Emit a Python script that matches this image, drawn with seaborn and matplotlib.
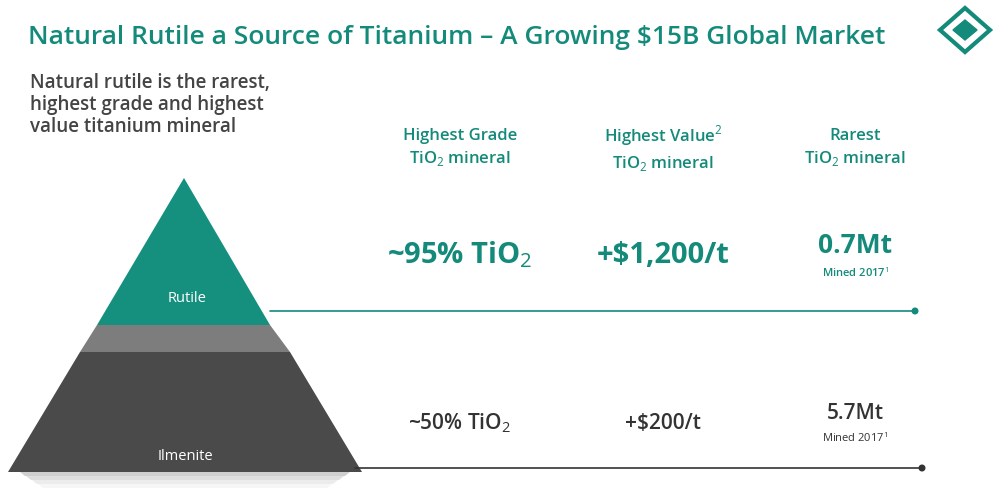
import matplotlib
matplotlib.use("Agg")
import matplotlib.pyplot as plt
import seaborn as sns
from matplotlib.patches import Polygon, Circle

sns.set_theme(style="white")
plt.rcParams["font.family"] = "Open Sans"
plt.rcParams["mathtext.fontset"] = "custom"
plt.rcParams["mathtext.rm"] = "Open Sans"

TEAL = "#138a7a"
DARK = "#333333"

title = "Natural Rutile a Source of Titanium – A Growing $15B Global Market"
subtitle = "Natural rutile is the rarest,\nhighest grade and highest\nvalue titanium mineral"
headers = ["Highest Grade\nTiO$_2$ mineral", "Highest Value$^2$\nTiO$_2$ mineral", "Rarest\nTiO$_2$ mineral"]
header_x = [460, 663, 855]
rutile_vals = ["~95% TiO$_2$", "+$1,200/t", "0.7Mt"]
ilmenite_vals = ["~50% TiO$_2$", "+$200/t", "5.7Mt"]
mined_note = "Mined 2017$^1$"

fig = plt.figure(figsize=(10, 4.94), dpi=100)
ax = fig.add_axes([0, 0, 1, 1])
ax.set_xlim(0, 1000); ax.set_ylim(494, 0); ax.axis("off")

ax.text(28, 37, title, color=TEAL, fontsize=19, fontweight="semibold", va="center")
ax.text(30, 105, subtitle, color="#444444", fontsize=13.5, fontweight="semibold", va="center", linespacing=1.15)

# logo
ax.add_patch(Polygon([(965, 8), (990, 30), (965, 52), (940, 30)], closed=True, fill=False, ec=TEAL, lw=3))
ax.add_patch(Polygon([(965, 20), (977, 30), (965, 40), (953, 30)], closed=True, fc=TEAL, ec=TEAL))

# pyramid
for k, c in enumerate(["#cfcfcf", "#dedede", "#ececec", "#f6f6f6"]):
    ax.add_patch(Polygon([(20 + 6 * k, 472 + 4 * k), (350 - 6 * k, 472 + 4 * k),
                          (345 - 6 * k, 476 + 4 * k), (25 + 6 * k, 476 + 4 * k)],
                         closed=True, fc=c, ec="none"))
ax.add_patch(Polygon([(80, 352), (290, 352), (362, 472), (8, 472)], closed=True, fc="#4a4a4a", ec="none"))
ax.add_patch(Polygon([(97, 325), (270, 325), (290, 352), (80, 352)], closed=True, fc="#7d7d7d", ec="none"))
ax.add_patch(Polygon([(184, 178), (270, 325), (97, 325)], closed=True, fc="#15907f", ec="none"))
ax.text(187, 298, "Rutile", color="white", fontsize=10.5, ha="center", va="center")
ax.text(185, 456, "Ilmenite", color="white", fontsize=10.5, ha="center", va="center")

# lines
ax.plot([270, 915], [311, 311], color=TEAL, lw=1.2)
ax.add_patch(Circle((915, 311), 2.8, color=TEAL))
ax.plot([355, 922], [468, 468], color=DARK, lw=1.2)
ax.add_patch(Circle((922, 468), 2.8, color=DARK))

for x, h in zip(header_x, headers):
    ax.text(x, 148, h, color=TEAL, fontsize=12, fontweight="semibold", ha="center", va="center", linespacing=1.4)

for i, (x, v) in enumerate(zip(header_x, rutile_vals)):
    y = 245 if i == 2 else 255
    ax.text(x, y, v, color=TEAL, fontsize=21 if i < 2 else 19, fontweight="bold", ha="center", va="center")
ax.text(855, 273, mined_note, color=TEAL, fontsize=8, fontweight="semibold", ha="center", va="center")

for i, (x, v) in enumerate(zip(header_x, ilmenite_vals)):
    y = 413 if i == 2 else 423
    ax.text(x, y, v, color=DARK, fontsize=15, fontweight="semibold", ha="center", va="center")
ax.text(855, 438, mined_note, color=DARK, fontsize=8, ha="center", va="center")

fig.savefig("out.png", dpi=100)
